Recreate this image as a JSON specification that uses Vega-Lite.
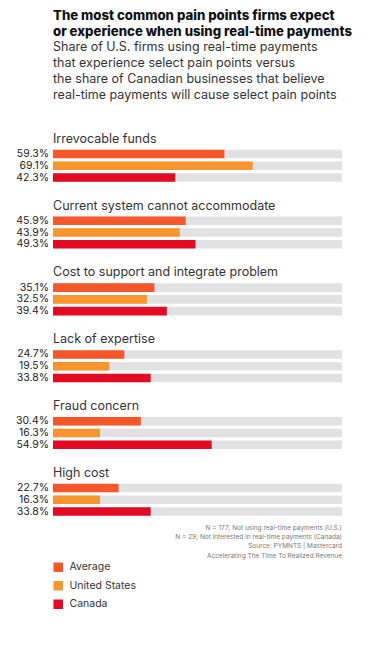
{
  "$schema": "https://vega.github.io/schema/vega-lite/v6.json",
  "padding": {"left": 16, "top": 8, "right": 10, "bottom": 5},
  "background": "white",
  "config": {
    "font": "Inter",
    "view": {"stroke": null},
    "legend": {"orient": "bottom", "direction": "vertical", "offset": 2}
  },
  "title": {
    "text": ["The most common pain points firms expect", "or experience when using real-time payments"],
    "subtitle": ["Share of U.S. firms using real-time payments", "that experience select pain points versus", "the share of Canadian businesses that believe", "real-time payments will cause select pain points"],
    "anchor": "start",
    "frame": "group",
    "font": "Inter",
    "fontSize": 13.2,
    "fontWeight": 800,
    "lineHeight": 16,
    "color": "#111111",
    "subtitleFont": "Inter",
    "subtitleFontSize": 12.5,
    "subtitleColor": "#333333",
    "subtitleLineHeight": 16,
    "subtitlePadding": 1.5,
    "offset": 13
  },
  "vconcat": [
    {
      "title": {
        "text": ["N = 177; Not using real-time payments (U.S.)", "N = 29; Not interested in real-time payments (Canada)", "Source: PYMNTS  |  Mastercard", "Accelerating The Time To Realized Revenue"],
        "orient": "bottom",
        "anchor": "end",
        "frame": "group",
        "fontSize": 6.5,
        "fontWeight": "normal",
        "color": "#777777",
        "lineHeight": 9.2,
        "offset": 8
      },
      "data": {
        "values": [
          {"category": "Irrevocable funds", "series": "Average", "value": 0.593},
          {"category": "Irrevocable funds", "series": "United States", "value": 0.691},
          {"category": "Irrevocable funds", "series": "Canada", "value": 0.423},
          {"category": "Current system cannot accommodate", "series": "Average", "value": 0.459},
          {"category": "Current system cannot accommodate", "series": "United States", "value": 0.439},
          {"category": "Current system cannot accommodate", "series": "Canada", "value": 0.493},
          {"category": "Cost to support and integrate problem", "series": "Average", "value": 0.351},
          {"category": "Cost to support and integrate problem", "series": "United States", "value": 0.325},
          {"category": "Cost to support and integrate problem", "series": "Canada", "value": 0.394},
          {"category": "Lack of expertise", "series": "Average", "value": 0.247},
          {"category": "Lack of expertise", "series": "United States", "value": 0.195},
          {"category": "Lack of expertise", "series": "Canada", "value": 0.338},
          {"category": "Fraud concern", "series": "Average", "value": 0.304},
          {"category": "Fraud concern", "series": "United States", "value": 0.163},
          {"category": "Fraud concern", "series": "Canada", "value": 0.549},
          {"category": "High cost", "series": "Average", "value": 0.227},
          {"category": "High cost", "series": "United States", "value": 0.163},
          {"category": "High cost", "series": "Canada", "value": 0.338}
        ]
      },
      "width": 289,
      "height": 400.8,
      "encoding": {
        "y": {
          "field": "category",
          "type": "nominal",
          "sort": ["Irrevocable funds", "Current system cannot accommodate", "Cost to support and integrate problem", "Lack of expertise", "Fraud concern", "High cost"],
          "axis": null,
          "scale": {"paddingInner": 0.52, "paddingOuter": 0.26, "align": 1}
        }
      },
      "layer": [
        {
          "mark": {"type": "bar", "color": "#e1e1e3"},
          "encoding": {
            "yOffset": {"field": "series", "type": "nominal", "sort": ["Average", "United States", "Canada"], "scale": {"paddingInner": 0.27, "paddingOuter": 0}},
            "x": {"datum": 1, "type": "quantitative", "scale": {"domain": [0, 1]}, "axis": null}
          }
        },
        {
          "mark": {"type": "bar"},
          "encoding": {
            "yOffset": {"field": "series", "type": "nominal", "sort": ["Average", "United States", "Canada"], "scale": {"paddingInner": 0.27, "paddingOuter": 0}},
            "x": {"field": "value", "type": "quantitative", "scale": {"domain": [0, 1]}, "axis": null},
            "color": {
              "field": "series",
              "type": "nominal",
              "sort": ["Average", "United States", "Canada"],
              "scale": {"domain": ["Average", "United States", "Canada"], "range": ["#f5572a", "#f9952e", "#e30b24"]},
              "legend": {
                "title": null,
                "symbolType": "square",
                "symbolSize": 90,
                "symbolStrokeWidth": 0,
                "labelFont": "Inter",
                "labelFontSize": 10.5,
                "labelColor": "#333333",
                "rowPadding": 7.5,
                "labelOffset": 6
              }
            }
          }
        },
        {
          "mark": {"type": "text", "align": "right", "baseline": "middle", "dx": -4, "fontSize": 10.5, "color": "#222222", "font": "Inter"},
          "encoding": {
            "yOffset": {"field": "series", "type": "nominal", "sort": ["Average", "United States", "Canada"], "scale": {"paddingInner": 0.27, "paddingOuter": 0}},
            "x": {"datum": 0, "type": "quantitative"},
            "text": {"field": "value", "type": "quantitative", "format": ".1%"}
          }
        },
        {
          "transform": [{"filter": "datum.series === 'Average'"}],
          "mark": {"type": "text", "align": "left", "baseline": "middle", "dy": -11, "fontSize": 12.5, "color": "#333333", "font": "Inter"},
          "encoding": {
            "y": {
              "field": "category",
              "type": "nominal",
              "sort": ["Irrevocable funds", "Current system cannot accommodate", "Cost to support and integrate problem", "Lack of expertise", "Fraud concern", "High cost"],
              "bandPosition": 0
            },
            "x": {"datum": 0, "type": "quantitative"},
            "text": {"field": "category", "type": "nominal"}
          }
        }
      ]
    }
  ]
}
